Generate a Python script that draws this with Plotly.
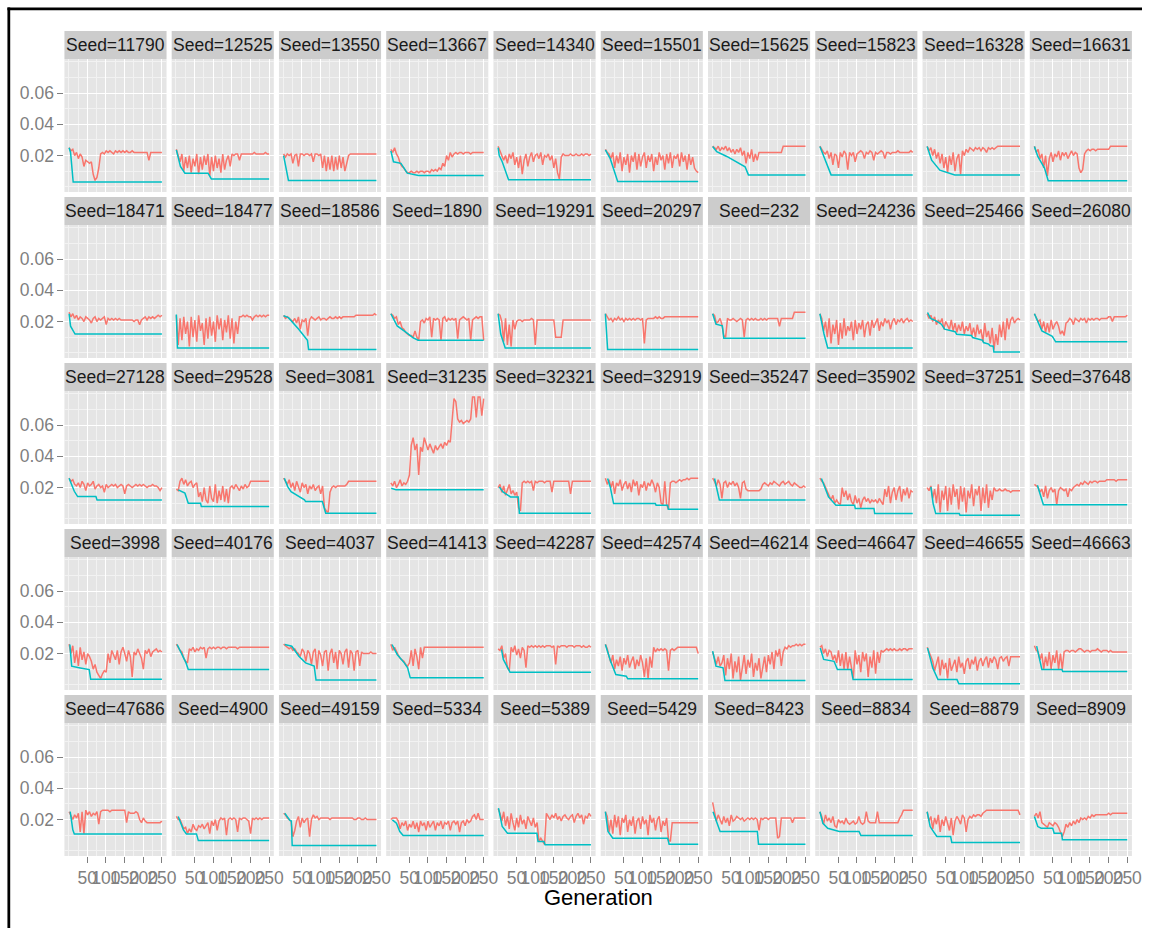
import numpy as np
import plotly.graph_objects as go

W, H = 1152, 928
FONT = "Liberation Sans, Arial, Helvetica, sans-serif"
RED, TEAL = "#F8766D", "#00BFC4"

SEEDS = [11790, 12525, 13550, 13667, 14340, 15501, 15625, 15823, 16328, 16631,
         18471, 18477, 18586, 1890, 19291, 20297, 232, 24236, 25466, 26080,
         27128, 29528, 3081, 31235, 32321, 32919, 35247, 35902, 37251, 37648,
         3998, 40176, 4037, 41413, 42287, 42574, 46214, 46647, 46655, 46663,
         47686, 4900, 49159, 5334, 5389, 5429, 8423, 8834, 8879, 8909]

# fitness of the current generation (units of 0.001), evenly spaced over generations 1..250
CURRENT = [
    [25,23,24,20,22,18,21,19,13,17,16,15,16,8,4,6,12,21,22,21,23,22,23,22,21,23,22,23,22,23,22,23,22,22,23,22,22,22,22,22,22,22,22,17,22,22,22,22,22,22,22],
    [24,20,16,21,10,19,12,20,9,18,13,21,8,19,11,20,14,21,7,19,10,20,12,18,9,21,11,17,20,13,21,20,21,21,17,21,21,21,21,21,21,21,22,21,21,21,21,21,22,21,21],
    [21,19,21,20,21,15,20,21,13,21,21,20,21,21,20,21,16,21,21,20,21,12,20,10,19,11,20,10,19,11,20,12,19,10,15,20,21,21,21,21,21,21,21,21,21,21,21,21,21,21,21],
    [24,22,25,21,19,15,13,12,10,9,9,10,9,9,10,9,10,10,9,10,10,9,11,10,11,10,12,11,15,13,20,17,22,19,21,22,21,22,22,21,22,22,22,21,22,22,22,22,22,22,22],
    [26,23,21,17,20,15,21,18,22,14,19,12,20,8,17,21,13,19,22,16,20,21,18,22,14,20,19,21,17,20,12,18,9,5,19,21,20,20,20,21,20,20,21,20,20,21,20,21,21,20,21],
    [24,22,21,18,22,12,20,15,22,10,19,14,21,9,20,16,22,11,21,13,19,22,12,20,16,21,10,19,14,22,17,20,11,21,15,22,12,20,18,21,13,22,16,20,11,21,14,19,12,10,9],
    [26,25,24,26,23,25,24,26,23,25,22,24,21,24,22,25,20,23,15,22,18,24,16,21,17,22,22,22,22,22,22,22,22,22,22,22,22,22,26,26,26,26,26,26,26,26,26,26,26,26,26],
    [26,24,22,21,23,18,22,14,21,20,12,22,19,23,21,11,22,20,22,16,21,22,23,22,18,22,21,23,22,17,22,21,22,23,22,18,22,22,21,22,22,22,23,22,22,22,22,22,22,23,22],
    [26,23,25,20,24,18,22,15,21,12,19,9,20,14,22,10,18,21,8,23,20,24,22,25,24,23,25,24,25,23,25,24,22,25,24,25,24,25,26,26,26,26,26,26,26,26,26,26,26,26,26],
    [26,22,24,18,21,12,20,7,18,22,16,21,19,23,17,22,20,22,18,21,23,20,22,21,12,9,11,21,23,24,23,24,24,23,24,24,24,24,24,24,24,26,26,26,26,26,26,26,26,26,26],
    [26,23,25,22,24,21,23,22,20,23,22,21,19,22,23,20,22,21,22,23,18,22,21,22,21,22,21,22,21,21,21,21,21,21,21,20,21,21,18,21,22,23,21,23,22,23,22,23,24,23,24],
    [24,5,22,8,23,12,20,4,23,10,21,7,24,14,19,5,22,9,23,11,20,7,24,15,22,8,21,13,24,9,22,6,20,12,23,23,24,23,24,23,23,21,23,24,23,24,23,24,23,24,24],
    [24,22,23,22,21,20,22,19,23,15,21,20,22,11,21,23,22,21,22,23,21,22,22,21,22,23,22,22,23,22,23,22,23,23,23,23,23,23,23,24,24,24,24,24,24,24,24,24,24,25,24],
    [25,24,22,23,18,20,16,15,13,12,11,11,10,14,10,8,20,21,19,22,21,23,10,22,21,22,21,8,22,23,20,22,21,22,21,22,9,21,22,23,22,21,22,8,21,22,23,22,23,23,8],
    [25,24,20,7,22,5,18,4,21,15,20,21,21,20,21,21,21,21,22,21,5,21,21,21,21,21,21,21,21,21,21,10,10,10,10,21,21,21,21,21,21,21,21,21,21,21,21,21,21,21,21],
    [25,23,21,22,20,22,21,23,21,22,20,22,21,22,21,22,21,22,22,21,22,6,21,22,22,22,22,23,22,23,22,22,23,23,23,23,23,23,23,23,23,23,23,23,23,23,23,23,23,23,23],
    [25,24,19,20,22,18,11,10,22,21,21,22,21,20,21,22,21,10,21,22,21,22,21,22,21,21,22,21,22,21,22,22,22,22,22,22,17,22,22,22,22,22,22,22,26,26,26,26,26,26,26],
    [25,22,14,20,10,22,6,18,12,21,5,19,9,22,11,17,14,20,8,21,12,19,15,21,10,18,20,11,21,16,19,22,14,20,17,22,19,21,15,20,22,18,21,20,22,19,21,22,20,21,20],
    [25,22,24,20,23,18,21,19,22,15,20,17,15,21,14,19,13,18,14,20,12,17,14,19,11,16,10,18,12,15,7,19,10,14,6,16,2,12,5,18,10,20,8,22,15,21,23,19,21,22,21],
    [25,22,20,21,15,20,13,19,13,21,15,18,20,17,12,14,11,19,20,22,21,18,22,21,20,22,21,22,19,22,21,22,21,22,22,21,22,22,22,22,23,23,20,23,23,23,23,23,23,23,24],
    [26,24,25,22,21,23,20,24,22,18,23,21,22,24,19,21,22,20,21,17,22,20,21,22,21,22,20,21,22,21,16,21,22,21,20,21,22,21,22,21,22,21,20,21,21,22,21,21,20,18,20],
    [19,18,24,26,22,25,21,23,24,20,22,23,14,17,11,20,12,10,21,13,11,22,10,18,12,21,11,19,10,20,21,19,22,20,18,21,19,22,20,21,24,24,24,24,24,24,24,24,24,24,24],
    [26,24,22,25,20,23,18,24,21,17,23,20,22,16,21,19,22,18,20,21,16,21,7,5,4,17,20,21,20,21,21,21,21,21,22,24,24,24,24,24,24,24,24,24,24,24,24,24,24,24,24],
    [23,21,24,20,22,25,21,23,22,24,28,47,52,44,48,28,46,43,52,47,44,48,45,42,47,44,46,48,45,49,47,50,49,66,77,75,64,62,63,61,62,63,62,64,78,78,65,78,78,66,77],
    [20,22,17,21,15,19,22,16,18,15,17,7,5,23,24,23,24,23,24,18,24,23,24,24,24,23,24,24,24,17,24,24,24,24,24,24,24,24,24,16,24,24,24,24,24,24,24,24,24,24,24],
    [26,22,25,20,24,16,23,21,25,18,22,24,19,23,17,25,21,24,15,22,20,24,18,23,21,25,22,17,23,20,10,9,24,9,6,23,24,24,23,24,25,24,25,25,26,25,26,26,26,26,26],
    [26,24,21,25,22,13,23,24,20,23,22,24,21,23,20,13,23,24,19,18,18,18,18,18,18,18,19,22,23,22,21,23,22,24,23,22,21,23,24,22,23,24,22,21,23,22,21,20,20,21,20],
    [26,24,23,20,17,15,12,15,10,12,10,9,20,14,18,12,16,11,9,15,10,13,7,12,14,11,13,10,12,11,12,10,13,11,9,19,14,21,10,17,20,12,18,21,11,19,15,20,13,18,17],
    [20,18,21,13,19,10,22,4,18,12,21,5,20,9,22,14,19,6,21,11,20,4,18,13,22,8,19,15,21,5,20,10,22,7,18,12,20,18,18,19,18,18,19,18,18,17,18,18,18,18,18],
    [22,21,20,17,19,14,21,13,18,20,17,19,9,18,20,19,18,19,14,19,18,20,21,22,21,23,22,24,23,22,24,23,24,24,23,24,24,24,24,25,25,25,25,25,24,25,25,25,25,25,25],
    [26,20,25,14,22,12,24,16,21,13,20,18,15,10,13,8,6,4,7,9,8,20,14,22,19,16,22,13,21,24,20,15,22,18,5,21,19,23,20,17,10,22,20,23,18,21,22,23,21,22,21],
    [26,24,22,21,17,15,14,23,22,24,21,23,22,24,23,24,17,23,24,23,24,23,24,24,23,24,24,23,24,24,24,24,24,23,24,24,24,24,24,24,24,24,24,24,24,24,24,24,24,24,24],
    [26,25,24,23,24,22,23,21,20,18,23,21,15,22,20,13,21,23,10,22,19,12,21,22,9,20,23,14,21,10,22,20,13,21,23,11,22,20,9,21,22,12,21,20,20,20,20,21,20,20,20],
    [26,22,24,21,19,17,16,15,13,12,14,22,12,23,18,10,24,17,24,24,24,24,24,24,24,24,24,24,24,24,24,24,24,24,24,24,24,24,24,24,24,24,24,24,24,24,24,24,24,24,24],
    [23,22,25,17,20,11,9,24,21,25,19,23,17,24,22,11,25,24,25,24,25,24,25,24,25,24,25,25,25,24,25,13,25,24,25,25,25,24,25,25,25,24,25,25,25,24,25,24,24,25,24],
    [26,23,18,14,19,10,16,12,18,9,17,13,19,11,15,18,10,16,12,19,14,5,17,4,18,11,24,21,23,22,23,22,23,22,9,22,23,22,23,24,24,24,24,24,24,24,24,24,24,24,20],
    [21,17,13,18,12,14,19,6,17,10,20,4,15,8,18,3,13,19,7,16,11,20,5,14,9,17,4,12,18,8,19,13,21,10,22,18,23,12,21,24,23,25,24,25,25,26,25,26,25,26,26],
    [24,25,20,23,18,22,21,16,19,14,22,12,20,10,21,10,18,11,4,22,13,19,8,21,15,20,5,18,11,22,7,21,14,22,21,22,23,22,23,22,23,22,22,23,22,23,23,22,23,23,23],
    [24,21,17,15,9,13,18,6,16,10,14,4,17,9,12,16,8,18,11,14,7,15,17,10,16,13,18,9,15,17,12,16,18,11,17,14,18,16,10,17,18,15,17,18,12,18,18,18,18,18,18],
    [25,22,21,16,20,10,18,12,21,10,19,14,22,10,20,10,21,22,22,21,22,22,21,22,23,23,22,21,22,22,21,22,22,22,23,22,21,22,22,22,21,22,21,21,21,21,21,21,21,21,21],
    [25,22,20,23,21,24,12,25,11,26,23,25,22,24,23,25,17,25,26,26,26,26,25,26,26,26,26,26,26,26,26,18,25,24,24,24,25,24,20,18,21,19,18,18,18,18,18,18,18,18,19],
    [22,20,20,17,14,15,11,14,12,17,14,13,16,15,17,14,16,18,11,19,16,20,13,19,21,20,21,10,20,21,20,21,20,12,21,20,21,21,20,19,11,21,20,21,20,21,20,21,21,21,21],
    [24,23,21,20,19,9,13,19,22,15,21,18,20,21,9,20,23,21,22,20,21,21,21,21,21,20,21,21,21,21,21,21,21,21,21,21,21,21,20,20,21,21,20,20,21,20,20,20,20,20,20],
    [20,21,21,21,19,14,18,16,19,13,17,15,19,14,18,12,19,16,18,13,19,15,17,19,13,18,16,19,14,18,17,19,13,18,19,17,19,12,18,19,16,20,18,19,22,23,20,24,20,20,20],
    [27,24,19,25,16,22,14,24,18,13,21,15,23,17,20,14,22,19,16,21,15,18,6,8,6,4,24,22,20,23,21,24,20,22,19,22,23,21,20,22,23,18,22,24,21,23,17,22,21,24,22],
    [25,22,12,20,11,23,15,22,10,21,18,23,12,20,16,22,11,19,21,14,22,17,20,10,23,18,21,13,20,22,12,19,16,21,7,6,18,18,18,18,18,18,18,18,18,18,18,18,18,18,18],
    [31,24,19,23,20,17,22,18,21,16,23,19,20,22,21,20,21,19,20,21,20,21,20,21,20,13,21,20,21,21,20,21,21,21,21,8,9,21,21,21,21,21,21,18,21,21,21,21,21,21,21],
    [25,22,17,23,19,21,18,22,16,15,20,18,19,17,21,18,17,18,19,17,18,22,18,17,18,25,19,18,18,18,18,25,18,18,18,18,18,18,18,18,18,18,18,21,23,26,26,26,26,26,26],
    [25,19,22,14,21,17,23,12,20,16,22,18,13,21,10,19,22,20,17,23,21,12,20,22,21,23,22,23,23,22,24,25,26,26,26,26,26,26,26,26,26,26,26,26,26,26,26,26,26,26,23],
    [22,24,21,25,18,17,16,15,18,17,16,18,17,15,12,9,12,17,15,18,16,19,17,20,18,21,20,21,20,22,21,23,22,23,23,23,23,23,23,23,24,23,24,24,24,24,24,24,24,24,24],
]

# best-so-far fitness: generations and values (units of 0.001) at the corners of each curve
BEST_GEN = [
    [1,5,12,250], [1,8,12,24,86,95,250], [1,6,14,250], [1,8,28,45,75,250], [1,4,12,29,250],
    [1,14,34,250], [1,12,39,66,88,97,250], [1,10,18,31,250], [1,13,35,57,75,250], [1,10,28,38,250],
    [1,5,17,250], [1,4,250], [1,14,41,65,68,250], [1,18,42,60,74,250], [1,8,20,250],
    [1,7,250], [1,10,27,31,250], [1,12,22,250],
    [2,10,25,39,48,76,80,120,123,150,152,166,170,178,180,250], [1,21,49,58,250],
    [1,15,24,73,76,250], [6,24,33,66,68,250], [3,12,21,35,57,60,105,114,250], [2,15,250],
    [4,14,34,55,58,250], [7,14,23,135,137,168,170,250], [6,19,250], [5,24,44,94,96,146,148,250],
    [11,17,24,87,89,250], [9,20,25,250],
    [3,8,31,55,59,250], [3,17,27,33,250], [4,23,42,60,83,88,250], [4,18,37,46,53,250], [10,15,33,250],
    [1,15,29,57,61,250], [1,10,29,34,250], [2,11,39,48,85,90,250], [2,16,30,81,86,250], [7,16,21,75,77,250],
    [4,11,15,250], [6,13,20,28,55,60,250], [4,11,18,22,24,250], [5,16,25,34,250],
    [2,12,26,105,108,124,127,250], [1,8,21,168,172,250], [2,12,21,121,124,250],
    [1,9,22,53,106,111,250], [1,9,18,27,64,67,250], [1,10,19,50,54,74,76,250],
]
BEST_VAL = [
    [25,22,3,3], [23.6,17,13,8.7,8.7,5,5], [20,14,4,4], [23,16,15,8.7,7.2,7.2], [25,20,16,4.4,4.4],
    [23.6,18,3.3,3.3], [25.8,22.5,19.4,16,12.8,7.6,7.6], [25.8,20,15,7.6,7.6], [25.8,17,10.6,8.7,7.6,7.6], [25.8,19.4,12,3.8,3.8],
    [25,17,12,12], [24.5,3,3], [23.7,22.5,15.2,8,2,2], [25,17.2,13,9.7,8,8], [25,12,3,3],
    [25,2,2], [25,18.3,17.2,9.3,9.3], [25,12,3,3],
    [25.8,22,20.4,18.3,15.1,13.5,11.9,11,9.7,8,6.5,5.5,4.4,4.2,0.5,0.5], [25,14,10.5,7,7],
    [26,17.6,14.2,14.2,12,12], [18.5,16.4,10,10,7.8,7.8], [26,20.6,17.4,15.3,12.1,11,11,3.5,3.5], [19.5,18.5,18.5],
    [20.4,17.2,14,14,3.5,3.5], [25.8,20.4,9.7,9.7,8.7,8.7,6,6], [25.8,12,12], [25.8,14,8.7,8.7,6.5,6.5,3.3,3.3],
    [20.4,9.7,3.3,3.3,2.3,2.3], [21.5,11.9,9,9],
    [25.8,11.9,10.8,9.7,3.5,3.5], [25.8,19.4,14,9.7,9.7], [25.8,24.7,18.3,14,12,3,3], [25.8,19.4,14,10.8,4.4,4.4], [22.6,16.2,8,8],
    [25.8,15,6.5,5.5,3.8,3.8], [21.5,11.9,10.8,2.7,2.7], [23.6,16.2,15,9.7,9.7,3.3,3.3], [23.6,10.8,3.3,3.3,0.6,0.6], [24.7,15,9.7,9.7,8.5,8.5],
    [25.1,13.4,10.8,10.8], [21.9,17.6,13.4,10.8,10.8,6.5,6.5], [24,21.9,19.4,19,3.3,3.3], [19.8,17.6,12.3,9.7,9.7],
    [27.3,15.5,11.2,11.2,5.9,5.9,3.8,3.8], [25.1,12.3,8,8,4.2,4.2], [25,17.6,12.3,12.3,4.2,4.2],
    [25,17.6,14.4,12.3,12.3,9.7,9.7], [25,15.5,12.3,9.1,9.1,5.3,5.3], [21.9,15.5,14.4,14.4,11.2,11.2,7,7],
]

X_TICKS = [50, 100, 150, 200, 250]
Y_TICKS = [0.02, 0.04, 0.06]
Y_TICK_TEXT = ["0.02", "0.04", "0.06"]
UNIT = 0.001

# facet grid geometry (pixels)
NCOL, NROW = 10, 5
LEFT, PITCH_X, PANEL_W = 65.0, 108.2, 103.0
TOP, PITCH_Y, STRIP_H, PANEL_H = 31.0, 166.0, 28.0, 133.0

# shared scales with a 5% expansion on each side
all_y = np.concatenate([np.array(v, float) for v in CURRENT] + [np.array(v, float) for v in BEST_VAL]) * UNIT
y_lo, y_hi = all_y.min(), all_y.max()
y_pad = 0.05 * (y_hi - y_lo)
Y_RANGE = [y_lo - y_pad, y_hi + y_pad]
g_lo, g_hi = 1, 250
g_pad = 0.05 * (g_hi - g_lo)
X_RANGE = [g_lo - g_pad, g_hi + g_pad]

X_MINOR = [0, 25, 75, 125, 175, 225]
Y_MINOR = [0.0, 0.01, 0.03, 0.05, 0.07, 0.08]

fig = go.Figure()
layout = {}
shapes = []
annotations = []
tick_font = dict(family=FONT, size=17.5, color="#7F7F7F")

for i, seed in enumerate(SEEDS):
    r, c = divmod(i, NCOL)
    k = i + 1
    xname = "x" if k == 1 else f"x{k}"
    yname = "y" if k == 1 else f"y{k}"
    x0 = LEFT + PITCH_X * c
    x1 = x0 + PANEL_W
    strip_top = TOP + PITCH_Y * r
    p_top = strip_top + STRIP_H
    p_bot = p_top + PANEL_H

    cur = np.array(CURRENT[i], float) * UNIT
    gens = np.linspace(1, 250, len(cur))
    fig.add_trace(go.Scatter(x=gens, y=cur, mode="lines", xaxis=xname, yaxis=yname,
                             line=dict(color=RED, width=1.5), showlegend=False, hoverinfo="skip"))
    fig.add_trace(go.Scatter(x=BEST_GEN[i], y=np.array(BEST_VAL[i], float) * UNIT, mode="lines",
                             xaxis=xname, yaxis=yname, line=dict(color=TEAL, width=1.5),
                             showlegend=False, hoverinfo="skip"))

    bottom = r == NROW - 1
    first = c == 0
    layout["xaxis" if k == 1 else f"xaxis{k}"] = dict(
        domain=[x0 / W, x1 / W], range=X_RANGE, anchor=yname,
        tickmode="array", tickvals=X_TICKS, showticklabels=bottom,
        ticks="outside" if bottom else "", ticklen=6, tickwidth=1.2, tickcolor="#7F7F7F",
        tickfont=tick_font, tickangle=0,
        showgrid=True, gridcolor="white", gridwidth=1.3, zeroline=False, showline=False,
        minor=dict(tickvals=X_MINOR, showgrid=True, gridcolor="#F2F2F2", gridwidth=0.7, ticks=""),
        fixedrange=True,
    )
    layout["yaxis" if k == 1 else f"yaxis{k}"] = dict(
        domain=[1 - p_bot / H, 1 - p_top / H], range=Y_RANGE, anchor=xname,
        tickmode="array", tickvals=Y_TICKS, ticktext=Y_TICK_TEXT, showticklabels=first,
        ticks="outside" if first else "", ticklen=6, tickwidth=1.2, tickcolor="#7F7F7F",
        tickfont=tick_font,
        showgrid=True, gridcolor="white", gridwidth=1.3, zeroline=False, showline=False,
        minor=dict(tickvals=Y_MINOR, showgrid=True, gridcolor="#F2F2F2", gridwidth=0.7, ticks=""),
        fixedrange=True,
    )

    # facet strip
    shapes.append(dict(type="rect", xref="paper", yref="paper",
                       x0=x0 / W, x1=x1 / W, y0=1 - p_top / H, y1=1 - strip_top / H,
                       fillcolor="#CCCCCC", line=dict(width=0), layer="below"))
    annotations.append(dict(text=f"Seed={seed}", xref="paper", yref="paper",
                            x=(x0 + x1) / 2 / W, y=1 - (strip_top + STRIP_H / 2) / H,
                            xanchor="center", yanchor="middle", showarrow=False,
                            font=dict(family=FONT, size=17.5, color="#1A1A1A")))

annotations.append(dict(text="Generation", xref="paper", yref="paper",
                        x=(LEFT + PITCH_X * (NCOL - 1) + PANEL_W + LEFT) / 2 / W, y=1 - 897 / H,
                        xanchor="center", yanchor="middle", showarrow=False,
                        font=dict(family=FONT, size=22, color="black")))

# black frame along the top and left edges
shapes.append(dict(type="rect", xref="paper", yref="paper", x0=7.5 / W, x1=10.3 / W,
                   y0=0, y1=1 - 7.5 / H, fillcolor="black", line=dict(width=0), layer="above"))
shapes.append(dict(type="rect", xref="paper", yref="paper", x0=7.5 / W, x1=1,
                   y0=1 - 10.2 / H, y1=1 - 7.5 / H, fillcolor="black", line=dict(width=0), layer="above"))

fig.update_layout(
    width=W, height=H, margin=dict(l=0, r=0, t=0, b=0, pad=0),
    paper_bgcolor="white", plot_bgcolor="#E5E5E5",
    shapes=shapes, annotations=annotations, showlegend=False,
    font=dict(family=FONT), **layout,
)

fig.write_html("out.html", config={"displayModeBar": False})
